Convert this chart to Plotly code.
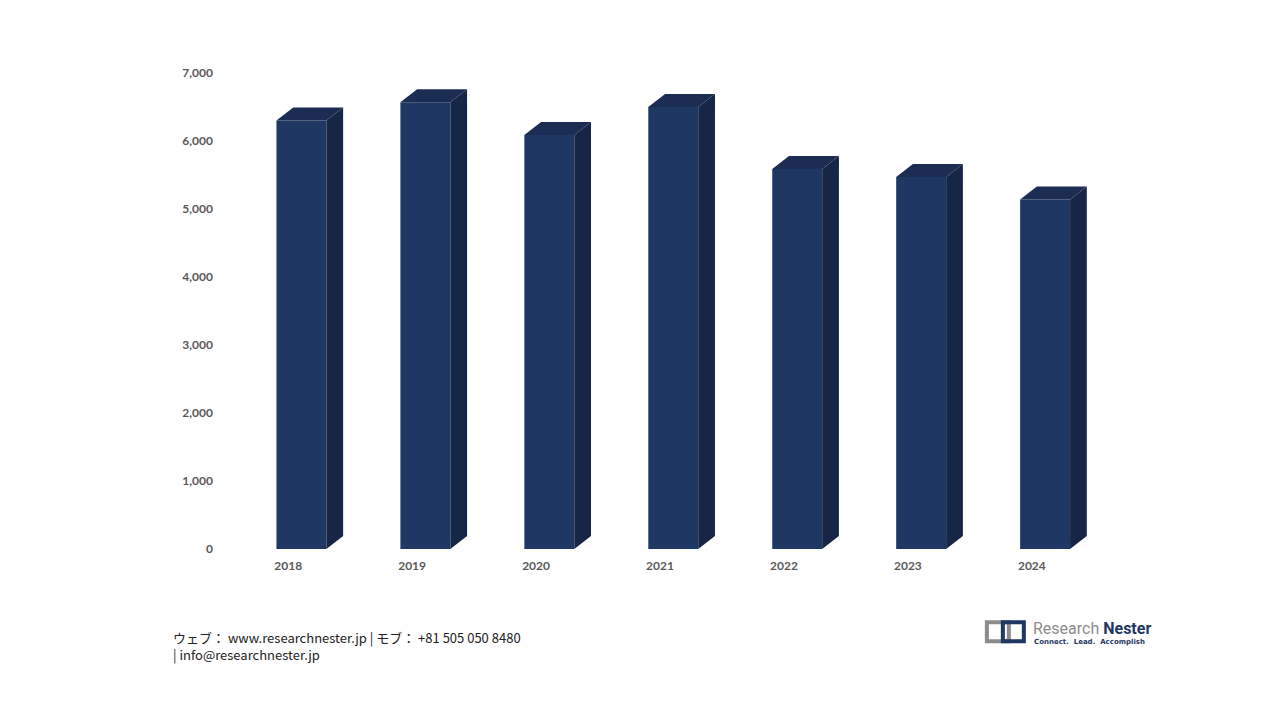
import plotly.graph_objects as go

# ---- data ----
years = ["2018", "2019", "2020", "2021", "2022", "2023", "2024"]
values = [6300, 6570, 6090, 6500, 5590, 5470, 5140]
y_ticks = [0, 1000, 2000, 3000, 4000, 5000, 6000, 7000]
y_tick_labels = ["0", "1,000", "2,000", "3,000", "4,000", "5,000", "6,000", "7,000"]

# ---- style ----
W, H = 1280, 720
OFF = 8              # page body margin
FRONT = "#1F3763"
SIDE = "#172646"
TOP = "#1B2D52"
BAR_OFF = 0.107      # front face shift from category tick (3D look)
BAR_W = 0.403
DX = 0.135           # depth offset in x units
DY = 191             # depth offset in y units

X0, X1 = -0.55, 6.8
L = 219.8 - OFF
PX_PER_UNIT = 124
plot_w = (X1 - X0) * PX_PER_UNIT
R = W - L - plot_w
T = 72.7 - OFF
B = H - (548.7 - OFF)
plot_h = H - T - B

xs = list(range(len(years)))
fig = go.Figure()

fig.add_trace(go.Bar(
    x=[i + BAR_OFF for i in xs], y=values, width=BAR_W,
    marker=dict(color=FRONT, line=dict(width=0)),
    hoverinfo="skip", showlegend=False))

for i, v in zip(xs, values):
    xl = i + BAR_OFF - BAR_W / 2
    xr = i + BAR_OFF + BAR_W / 2
    # side face
    fig.add_trace(go.Scatter(
        x=[xr, xr + DX, xr + DX, xr, xr],
        y=[0, DY, v + DY, v, 0],
        fill="toself", fillcolor=SIDE, mode="lines",
        line=dict(width=0, color=SIDE), hoverinfo="skip", showlegend=False))
    # top face
    fig.add_trace(go.Scatter(
        x=[xl, xl + DX, xr + DX, xr, xl],
        y=[v, v + DY, v + DY, v, v],
        fill="toself", fillcolor=TOP, mode="lines",
        line=dict(width=0, color=TOP), hoverinfo="skip", showlegend=False))

fig.update_layout(
    width=W, height=H,
    margin=dict(l=L, r=R, t=T, b=B, pad=0),
    paper_bgcolor="white", plot_bgcolor="white",
    showlegend=False,
    xaxis=dict(range=[X0, X1], tickvals=xs, ticktext=years,
               showgrid=False, zeroline=False, showline=False, ticks="",
               tickfont=dict(family="Lato", size=12, color="#595959", weight="bold"),
               ticklabelstandoff=8),
    yaxis=dict(range=[0, 7000], tickvals=y_ticks, ticktext=y_tick_labels,
               showgrid=False, zeroline=False, showline=False, ticks="",
               tickfont=dict(family="Lato", size=12, color="#595959", weight="bold"),
               ticklabelstandoff=6),
)

def px_x(p):
    return (p - OFF - L) / plot_w

def px_y(p):
    return (H - B - (p - OFF)) / plot_h

# footer
fig.add_annotation(
    xref="paper", yref="paper", x=px_x(171), y=px_y(637), xanchor="left", yanchor="middle",
    text="ウェブ： www.researchnester.jp | モブ： +81 505 050 8480", showarrow=False,
    font=dict(family="Noto Sans CJK JP", size=13, color="#222222"))
fig.add_annotation(
    xref="paper", yref="paper", x=px_x(171), y=px_y(654), xanchor="left", yanchor="middle",
    text="| info@researchnester.jp", showarrow=False,
    font=dict(family="Noto Sans CJK JP", size=13, color="#222222"))

# logo text
fig.add_annotation(
    xref="paper", yref="paper", x=px_x(1031), y=px_y(628), xanchor="left", yanchor="middle",
    text="<span style='color:#8C8C8C'>Research</span> <b>Nester</b>", showarrow=False,
    font=dict(family="Roboto", size=16, color="#1F3763"))
fig.add_annotation(
    xref="paper", yref="paper", x=px_x(1032), y=px_y(642), xanchor="left", yanchor="middle",
    text="<b>Connect.  Lead.  Accomplish</b>", showarrow=False,
    font=dict(family="DejaVu Sans", size=7, color="#1F3763"))

# logo icon (two interlocking brackets)
fig.add_shape(type="rect", xref="paper", yref="paper",
              x0=px_x(987), x1=px_x(1009), y0=px_y(622), y1=px_y(641),
              line=dict(color="#8C8C8C", width=4), fillcolor="rgba(0,0,0,0)")
fig.add_shape(type="rect", xref="paper", yref="paper",
              x0=px_x(1003), x1=px_x(1024), y0=px_y(622), y1=px_y(641),
              line=dict(color="#1F3763", width=4), fillcolor="rgba(0,0,0,0)")

fig.write_html("out.html")
